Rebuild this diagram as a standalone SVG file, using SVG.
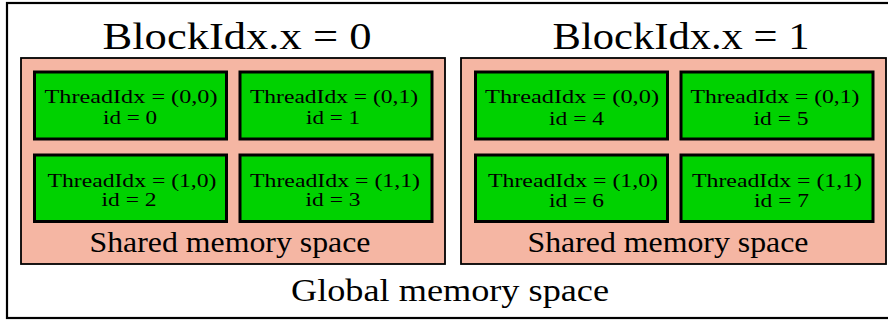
<svg xmlns="http://www.w3.org/2000/svg" width="888" height="320" viewBox="0 0 888 320">
  <style>
    .global { fill: #ffffff; stroke: #000000; stroke-width: 2.2; }
    .shared { fill: #f5b6a3; stroke: #000000; stroke-width: 1.8; }
    .thread { fill: #00d200; stroke: #000000; stroke-width: 3; }
    text { font-family: "Liberation Serif", "Times New Roman", serif; fill: #000000; text-anchor: middle; }
    .title { font-size: 38px; }
    .mem { font-size: 30px; }
    .gmem { font-size: 32px; }
    .tl { font-size: 18px; }
  </style>

  <!-- global memory -->
  <g id="global">
    <rect class="global" x="7" y="3" width="890" height="315"/>
    <text class="gmem" x="450" y="301" textLength="318" lengthAdjust="spacingAndGlyphs">Global memory space</text>
  </g>

  <!-- block 0 -->
  <g id="block0">
    <text class="title" x="237" y="49" textLength="269" lengthAdjust="spacingAndGlyphs">BlockIdx.x = 0</text>
    <rect class="shared" x="21" y="58" width="424" height="206"/>
    <text class="mem" x="230" y="251.5" textLength="281" lengthAdjust="spacingAndGlyphs">Shared memory space</text>
  </g>
  <g id="t0">
    <rect class="thread" x="34.5" y="72" width="192" height="67"/>
    <text class="tl" x="131" y="103" textLength="173" lengthAdjust="spacingAndGlyphs">ThreadIdx = (0,0)</text>
    <text class="tl" x="130" y="124" textLength="54" lengthAdjust="spacingAndGlyphs">id = 0</text>
  </g>
  <g id="t1">
    <rect class="thread" x="240" y="72" width="192" height="67"/>
    <text class="tl" x="334" y="103" textLength="168" lengthAdjust="spacingAndGlyphs">ThreadIdx = (0,1)</text>
    <text class="tl" x="333" y="124" textLength="54" lengthAdjust="spacingAndGlyphs">id = 1</text>
  </g>
  <g id="t2">
    <rect class="thread" x="34.5" y="155" width="192" height="66.5"/>
    <text class="tl" x="132" y="186.5" textLength="169" lengthAdjust="spacingAndGlyphs">ThreadIdx = (1,0)</text>
    <text class="tl" x="129" y="206" textLength="55" lengthAdjust="spacingAndGlyphs">id = 2</text>
  </g>
  <g id="t3">
    <rect class="thread" x="240" y="155" width="192" height="66.5"/>
    <text class="tl" x="335" y="186.5" textLength="170" lengthAdjust="spacingAndGlyphs">ThreadIdx = (1,1)</text>
    <text class="tl" x="333" y="206" textLength="55" lengthAdjust="spacingAndGlyphs">id = 3</text>
  </g>

  <!-- block 1 -->
  <g id="block1">
    <text class="title" x="681" y="49" textLength="257" lengthAdjust="spacingAndGlyphs">BlockIdx.x = 1</text>
    <rect class="shared" x="461" y="58" width="425" height="206"/>
    <text class="mem" x="668" y="251.5" textLength="281" lengthAdjust="spacingAndGlyphs">Shared memory space</text>
  </g>
  <g id="t4">
    <rect class="thread" x="475.5" y="72" width="192" height="67"/>
    <text class="tl" x="572" y="103" textLength="174" lengthAdjust="spacingAndGlyphs">ThreadIdx = (0,0)</text>
    <text class="tl" x="576.5" y="124.5" textLength="55" lengthAdjust="spacingAndGlyphs">id = 4</text>
  </g>
  <g id="t5">
    <rect class="thread" x="681" y="72" width="192" height="67"/>
    <text class="tl" x="775" y="103" textLength="169" lengthAdjust="spacingAndGlyphs">ThreadIdx = (0,1)</text>
    <text class="tl" x="781" y="124.5" textLength="55" lengthAdjust="spacingAndGlyphs">id = 5</text>
  </g>
  <g id="t6">
    <rect class="thread" x="475.5" y="155" width="192" height="66.5"/>
    <text class="tl" x="573" y="186.5" textLength="170" lengthAdjust="spacingAndGlyphs">ThreadIdx = (1,0)</text>
    <text class="tl" x="576.5" y="206.5" textLength="55" lengthAdjust="spacingAndGlyphs">id = 6</text>
  </g>
  <g id="t7">
    <rect class="thread" x="681" y="155" width="192" height="66.5"/>
    <text class="tl" x="777" y="186.5" textLength="170" lengthAdjust="spacingAndGlyphs">ThreadIdx = (1,1)</text>
    <text class="tl" x="781.5" y="206.5" textLength="55" lengthAdjust="spacingAndGlyphs">id = 7</text>
  </g>

  <!-- no connectors in this figure -->
  <g id="connectors"/>
</svg>
